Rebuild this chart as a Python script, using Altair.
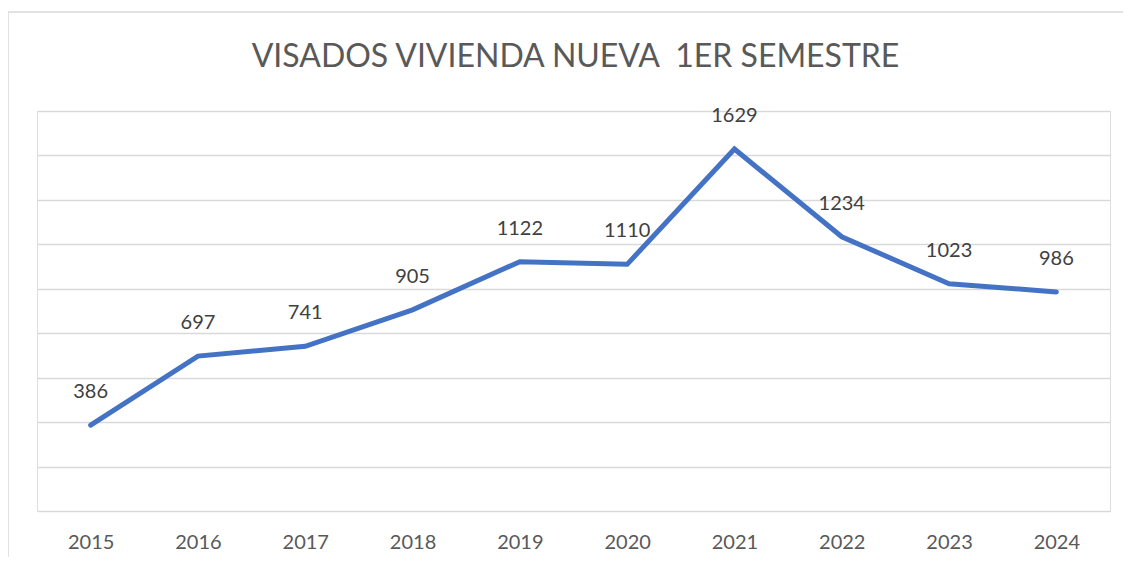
import altair as alt
import pandas as pd

years = ["2015", "2016", "2017", "2018", "2019", "2020", "2021", "2022", "2023", "2024"]
values = [386, 697, 741, 905, 1122, 1110, 1629, 1234, 1023, 986]
grid_ticks = [0, 200, 400, 600, 800, 1000, 1200, 1400, 1600, 1800]
title_text = "VISADOS VIVIENDA NUEVA \u00a01ER SEMESTRE"

df = pd.DataFrame({"year": years, "value": values})

W, H = 1073, 400
FONT = "Lato"

x = alt.X("year:O", sort=years, title=None,
          scale=alt.Scale(padding=0.5),
          axis=alt.Axis(labelAngle=0, labelFontSize=20, labelColor="#595959",
                        labelFont=FONT, domain=False, ticks=False, labelPadding=21,
                        grid=False))
y = alt.Y("value:Q", title=None,
          scale=alt.Scale(domain=[0, 1800], nice=False, zero=True),
          axis=alt.Axis(values=grid_ticks, labels=False, ticks=False, domain=False,
                        grid=True, gridColor="#d9d9d9", gridWidth=1.5))

one = pd.DataFrame({"t": [title_text]})

border = alt.Chart(one).mark_rect(
    fill=None, stroke="#d9d9d9", strokeWidth=1.5
).encode(x=alt.value(-29), x2=alt.value(W + 200), y=alt.value(-99), y2=alt.value(H + 200))

title = alt.Chart(one).mark_text(
    fontSize=32, font=FONT, color="#595959", baseline="alphabetic", align="center"
).encode(x=alt.value(W / 2 + 2), y=alt.value(-44), text="t:N")

base = alt.Chart(df)
line = base.mark_line(color="#4472C4", strokeWidth=5, strokeCap="round", strokeJoin="miter").encode(x=x, y=y)
labels = base.mark_text(dy=-33, fontSize=20, font=FONT, color="#404040").encode(
    x=alt.X("year:O", sort=years), y="value:Q", text="value:Q")

chart = alt.layer(border, title, line, labels).properties(
    width=W, height=H,
    padding={"left": 29, "top": 103, "right": 13, "bottom": 46},
    autosize=alt.AutoSizeParams(type="none"),
).configure_view(stroke=None).configure(background="white")

chart.save("out.html", embed_options={"renderer": "svg", "actions": False})
